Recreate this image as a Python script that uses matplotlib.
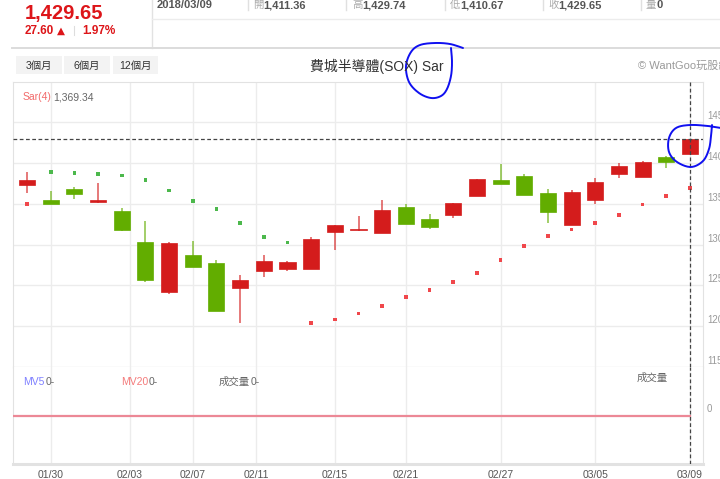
import matplotlib
matplotlib.use('Agg')
import matplotlib.pyplot as plt
import numpy as np
from matplotlib import transforms
from matplotlib.patches import Rectangle

# ---------------- data ----------------
dates = ['2018-01-29', '2018-01-30', '2018-01-31', '2018-02-01', '2018-02-02',
         '2018-02-05', '2018-02-06', '2018-02-07', '2018-02-08', '2018-02-09',
         '2018-02-12', '2018-02-13', '2018-02-14', '2018-02-15', '2018-02-16',
         '2018-02-20', '2018-02-21', '2018-02-22', '2018-02-23', '2018-02-26',
         '2018-02-27', '2018-02-28', '2018-03-01', '2018-03-02', '2018-03-05',
         '2018-03-06', '2018-03-07', '2018-03-08', '2018-03-09']
opens = [1372.3, 1354.4, 1367.8, 1352.3, 1341.0, 1302.6, 1241.4, 1287.5, 1277.4, 1246.3,
         1268.0, 1270.4, 1270.4, 1315.6, 1317.2, 1314.1, 1345.8, 1330.7, 1336.4, 1359.7,
         1378.4, 1384.1, 1363.0, 1323.8, 1353.9, 1386.6, 1382.9, 1407.7, 1411.36]
highs = [1389.0, 1366.1, 1370.3, 1375.2, 1344.6, 1328.2, 1303.1, 1303.8, 1280.6, 1263.1,
         1287.5, 1280.2, 1309.2, 1323.5, 1334.4, 1353.9, 1349.5, 1337.3, 1351.3, 1380.6,
         1398.8, 1386.2, 1368.2, 1366.6, 1382.0, 1400.4, 1402.8, 1408.0, 1429.74]
lows = [1363.3, 1349.5, 1355.6, 1350.7, 1316.8, 1253.7, 1239.0, 1272.0, 1218.0, 1204.0,
        1260.3, 1267.1, 1270.0, 1292.8, 1317.0, 1313.8, 1325.0, 1319.0, 1332.4, 1359.5,
        1374.5, 1361.0, 1325.8, 1323.5, 1350.2, 1381.3, 1382.7, 1394.3, 1410.67]
closes = [1378.4, 1349.9, 1361.7, 1355.1, 1317.2, 1256.1, 1301.8, 1272.5, 1218.2, 1256.1,
          1279.3, 1278.6, 1307.1, 1323.3, 1319.3, 1342.2, 1325.1, 1321.8, 1351.1, 1380.4,
          1374.7, 1361.2, 1340.1, 1363.7, 1376.4, 1396.3, 1400.9, 1401.6, 1429.65]
sar = [1349.9, 1388.6, 1387.8, 1386.6, 1384.5, 1378.8, 1366.1, 1353.5, 1343.8, 1326.7,
       1309.5, 1302.6, 1204.0, 1208.1, 1215.4, 1224.8, 1235.4, 1244.4, 1253.7, 1265.5,
       1281.4, 1298.2, 1310.4, 1318.5, 1326.3, 1336.1, 1349.0, 1359.7, 1369.34]
volume = [0] * len(dates)
tick_dates = ['2018-01-30', '2018-02-03', '2018-02-07', '2018-02-11', '2018-02-15',
              '2018-02-21', '2018-02-27', '2018-03-05', '2018-03-09']
tick_labels = ['01/30', '02/03', '02/07', '02/11', '02/15', '02/21', '02/27', '03/05', '03/09']
price_ticks = [1150, 1200, 1250, 1300, 1350, 1400, 1450]
price_tick_labels = ['1150', '1200', '1250', '1300', '1350', '1400', '1450']

# ---------------- setup ----------------
plt.rcParams['font.family'] = ['Liberation Sans', 'Noto Sans CJK TC', 'DejaVu Sans']
W, H = 720, 479
fig = plt.figure(figsize=(7.2, 4.79), dpi=100)
fig.patch.set_facecolor('white')

def fx(x):
    return x / W

def fy(y):
    return 1 - y / H

n = len(dates)
xs = np.arange(n)
day_num = np.array(dates, dtype='datetime64[D]').astype(float)
tick_num = np.array(tick_dates, dtype='datetime64[D]').astype(float)
tick_pos = np.interp(tick_num, day_num, xs)

step = (690 - 27) / 28.0
xl = (-(27 - 13) / step, 28 + (703 - 690) / step)

ax = fig.add_axes([fx(13), fy(367), fx(703) - fx(13), fy(82) - fy(367)])
axv = fig.add_axes([fx(13), fy(464), fx(703) - fx(13), fy(367) - fy(464)])

UP, DOWN = '#d41c1c', '#62ad00'
SAR_UP, SAR_DOWN = '#f0474b', '#4cb84c'
GRID = '#ececec'
SP = '#e2e2e2'

o = np.array(opens); c = np.array(closes); h = np.array(highs); l = np.array(lows)
cols = [UP if cc >= oo else DOWN for oo, cc in zip(o, c)]
ax.vlines(xs, l, h, colors=cols, lw=1.1, alpha=0.75, zorder=3)
bottoms = np.minimum(o, c)
heights = np.maximum(np.abs(c - o), 1.2)
ax.bar(xs, heights, bottom=bottoms, width=0.68, color=cols, edgecolor=cols,
       linewidth=0.5, zorder=4)
s = np.array(sar)
scol = [SAR_UP if sv < lo else SAR_DOWN for sv, lo in zip(s, l)]
ax.scatter(xs, s, marker='s', s=7, c=scol, linewidths=0, zorder=4)

ax.set_xlim(*xl)
ax.set_ylim(1150.6, 1499)
ax.set_yticks(price_ticks)
ax.set_xticks(tick_pos)
ax.grid(True, color=GRID, lw=1)
ax.set_axisbelow(True)
ax.tick_params(length=0, labelleft=False, labelbottom=False)
for sp in ax.spines.values():
    sp.set_color(SP)
ax.spines['bottom'].set_color('#eeeeee')

ax.axhline(closes[-1], color='#444', ls=(0, (3, 2)), lw=0.9, zorder=5)
ax.axvline(xs[-1], color='#444', ls=(0, (3, 2)), lw=0.9, zorder=5)

toff = transforms.offset_copy(ax.get_yaxis_transform(), fig=fig, x=4, y=6, units='dots')
for v, lab in zip(price_ticks, price_tick_labels):
    ax.text(1.0, v, lab, transform=toff, ha='left', va='center', fontsize=7,
            color='#9a9a9a', clip_on=False)

# volume panel
axv.set_xlim(*xl)
axv.set_ylim(-1, 1)
axv.set_xticks(tick_pos, labels=tick_labels)
axv.set_yticks([0])
axv.grid(True, axis='x', color=GRID, lw=1)
axv.set_axisbelow(True)
axv.tick_params(axis='x', length=0, pad=4, labelsize=7.5, labelcolor='#555')
axv.tick_params(axis='y', length=0, labelleft=False)
for sp in axv.spines.values():
    sp.set_color(SP)
axv.spines['top'].set_visible(False)
axv.spines['bottom'].set_linewidth(2.2)
axv.plot(np.r_[xl[0], xs], np.r_[volume[0], volume], color='#ec8896', lw=1.6, zorder=3)
axv.axvline(xs[-1], color='#444', ls=(0, (3, 2)), lw=0.9, zorder=5)
toffv = transforms.offset_copy(axv.get_yaxis_transform(), fig=fig, x=4, y=6, units='dots')
axv.text(1.0, 0, '0', transform=toffv, ha='left', va='center', fontsize=7,
         color='#9a9a9a', clip_on=False)

# ---------------- overlay (header, labels, annotations) ----------------
a0 = fig.add_axes([0, 0, 1, 1], zorder=10)
a0.set_xlim(0, W)
a0.set_ylim(H, 0)
a0.axis('off')

RED = '#dd1519'
a0.text(25, 13, '1,429.65', fontsize=14.5, fontweight='bold', color=RED, ha='left', va='center')
a0.text(25, 31, '27.60', fontsize=8.5, fontweight='bold', color=RED, ha='left', va='center')
a0.text(57, 31, '▲', fontsize=7.5, color=RED, ha='left', va='center', family='DejaVu Sans')
a0.plot([74, 74], [26, 35], color='#dddddd', lw=0.8)
a0.text(82, 31, '1.97%', fontsize=8.5, fontweight='bold', color=RED, ha='left', va='center')

a0.plot([152, 152], [0, 48], color='#e2e2e2', lw=1)
a0.plot([152, 720], [19, 19], color='#ececec', lw=1)
a0.plot([12, 720], [48, 48], color='#dcdcdc', lw=1.4)
a0.text(157, 5, '2018/03/09', fontsize=8, fontweight='bold', color='#555', ha='left', va='center')
items = [(248, 253, '開', '1,411.36'), (346, 352, '高', '1,429.74'),
         (445, 450, '低', '1,410.67'), (543, 548, '收', '1,429.65'), (641, 646, '量', '0')]
for sx, tx, k, val in items:
    a0.plot([sx, sx], [0, 10], color='#e0e0e0', lw=1)
    a0.text(tx, 5, k, fontsize=7.5, color='#aaaaaa', ha='left', va='center', family='Noto Sans CJK TC')
    a0.text(tx + 10.5, 5, val, fontsize=8, fontweight='bold', color='#555', ha='left', va='center')

for x0, x1, lab in [(16, 62, '3個月'), (64, 110, '6個月'), (113, 158, '12個月')]:
    a0.add_patch(Rectangle((x0, 56), x1 - x0, 18, facecolor='#f3f3f3', edgecolor='none'))
    a0.text((x0 + x1) / 2, 65.5, lab, fontsize=7.5, color='#333', ha='center', va='center')

a0.text(377, 66, '費城半導體(SOX) Sar', fontsize=10, color='#333', ha='center', va='center')
a0.text(638, 66, '© WantGoo玩股網', fontsize=8, color='#9a9a9a', ha='left', va='center')

a0.text(23, 97, 'Sar(4)', fontsize=7.5, color='#f26a6a', ha='left', va='center')
a0.text(53, 97, '1,369.34', fontsize=7.5, color='#666', ha='left', va='center')

a0.text(23, 382, 'MV5', fontsize=7.5, color='#7f80ff', ha='left', va='center')
a0.text(46, 382, '0-', fontsize=7.5, color='#666', ha='left', va='center')
a0.text(121, 382, 'MV20', fontsize=7.5, color='#f47a7a', ha='left', va='center')
a0.text(149, 382, '0-', fontsize=7.5, color='#666', ha='left', va='center')
a0.text(219, 382, '成交量', fontsize=7.5, color='#666', ha='left', va='center')
a0.text(251, 382, '0-', fontsize=7.5, color='#666', ha='left', va='center')
a0.text(637, 378, '成交量', fontsize=7.5, color='#666', ha='left', va='center')


def smooth(pts, k=12):
    p = np.array(pts, dtype=float)
    p = np.vstack([p[0], p, p[-1]])
    out = []
    for i in range(1, len(p) - 2):
        p0, p1, p2, p3 = p[i - 1], p[i], p[i + 1], p[i + 2]
        for t in np.linspace(0, 1, k, endpoint=False):
            t2, t3 = t * t, t * t * t
            out.append(0.5 * ((2 * p1) + (-p0 + p2) * t + (2 * p0 - 5 * p1 + 4 * p2 - p3) * t2
                              + (-p0 + 3 * p1 - 3 * p2 + p3) * t3))
    out.append(p[-2])
    return np.array(out)

BLUE = '#1010f0'
c1 = smooth([(463, 48), (450, 44), (435, 43), (420, 45), (411, 52), (406, 66), (409, 82),
             (419, 93), (431, 98), (441, 96), (447, 89), (451, 76), (452, 62), (451, 48)])
a0.plot(c1[:, 0], c1[:, 1], color=BLUE, lw=1.4, solid_capstyle='round')
c2 = smooth([(721, 128), (708, 126), (690, 125), (676, 128), (669, 138), (669, 152),
             (677, 162), (691, 167), (703, 161), (709, 149), (711, 136), (712, 125)])
a0.plot(c2[:, 0], c2[:, 1], color=BLUE, lw=1.4, solid_capstyle='round')

fig.savefig('out.png', dpi=100)
